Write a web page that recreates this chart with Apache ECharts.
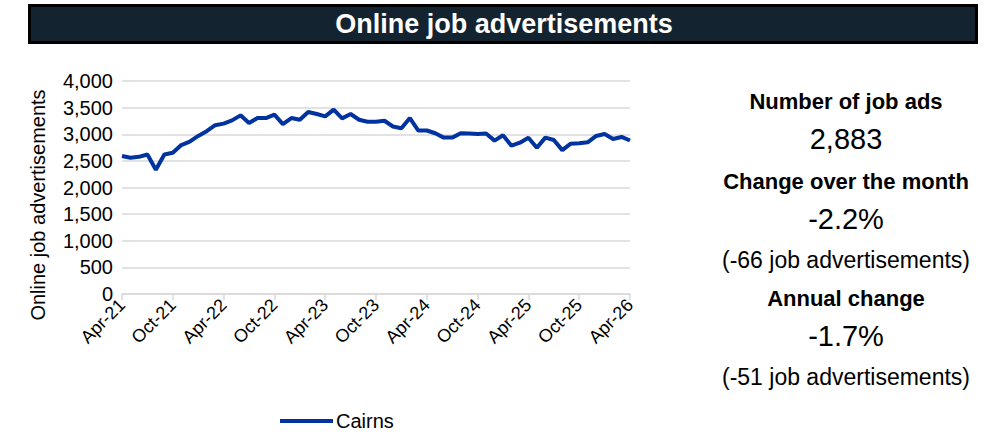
<!DOCTYPE html>
<html><head><meta charset="utf-8">
<script src="https://cdn.jsdelivr.net/npm/echarts@6/dist/echarts.min.js"></script>
<style>html,body{margin:0;padding:0;background:#fff}#c{width:996px;height:441px}</style>
</head><body><div id="c"></div>
<script>
const categories = ["Apr-21","May-21","Jun-21","Jul-21","Aug-21","Sep-21","Oct-21","Nov-21","Dec-21","Jan-22","Feb-22","Mar-22",
"Apr-22","May-22","Jun-22","Jul-22","Aug-22","Sep-22","Oct-22","Nov-22","Dec-22","Jan-23","Feb-23","Mar-23",
"Apr-23","May-23","Jun-23","Jul-23","Aug-23","Sep-23","Oct-23","Nov-23","Dec-23","Jan-24","Feb-24","Mar-24",
"Apr-24","May-24","Jun-24","Jul-24","Aug-24","Sep-24","Oct-24","Nov-24","Dec-24","Jan-25","Feb-25","Mar-25",
"Apr-25","May-25","Jun-25","Jul-25","Aug-25","Sep-25","Oct-25","Nov-25","Dec-25","Jan-26","Feb-26","Mar-26","Apr-26"];
const cairns = [2590,2560,2576,2620,2335,2620,2652,2797,2860,2968,3057,3170,
3200,3260,3355,3210,3304,3304,3367,3190,3304,3272,3418,3380,
3335,3462,3298,3380,3272,3234,3234,3253,3146,3114,3304,3070,
3070,3019,2937,2937,3019,3013,3006,3013,2880,2981,2785,2842,
2934,2747,2937,2892,2702,2823,2829,2848,2968,3006,2911,2949,2883];
const yTicks = [0,500,1000,1500,2000,2500,3000,3500,4000];
const seriesName = "Cairns";
const chartTitle = "Online job advertisements";
const yAxisTitle = "Online job advertisements";
const panelTexts = [
  ["Number of job ads", true, 22, 101],
  ["2,883", false, 29, 139],
  ["Change over the month", true, 22, 181],
  ["-2.2%", false, 29, 219],
  ["(-66 job advertisements)", false, 23, 260],
  ["Annual change", true, 22, 298],
  ["-1.7%", false, 29, 336],
  ["(-51 job advertisements)", false, 23, 377]
];
const FONT = "'Liberation Sans', Arial, sans-serif";
const chart = echarts.init(document.getElementById('c'), null, {renderer:'svg'});
const graphics = [
  {type:'rect', shape:{x:29.5,y:5.5,width:947,height:37}, style:{fill:'#13232f', stroke:'#000', lineWidth:3}, z:10},
  {type:'text', x:504, y:24, style:{text:chartTitle, fill:'#fff', font:'bold 27px '+FONT, textAlign:'center', textVerticalAlign:'middle'}, z:11},
  {type:'text', x:38, y:205, rotation:Math.PI/2, style:{text:yAxisTitle, fill:'#000', font:'20px '+FONT, textAlign:'center', textVerticalAlign:'middle'}}
];
panelTexts.forEach(([t,b,s,y]) => {
  graphics.push({type:'text', x:846, y:y, style:{text:t, fill:'#000', font:(b?'bold ':'')+s+'px '+FONT, textAlign:'center', textVerticalAlign:'middle'}});
});
chart.setOption({
  animation:false,
  textStyle:{fontFamily:FONT},
  grid:{left:122, top:81, width:508, height:213, containLabel:false},
  legend:{data:[seriesName], left:280, top:411, padding:0, itemWidth:53, itemHeight:4, icon:'rect', itemGap:10,
    textStyle:{fontSize:20, color:'#000', fontFamily:FONT, padding:[0,0,0,-2]}},
  xAxis:{type:'category', data:categories, boundaryGap:false,
    axisLine:{lineStyle:{color:'#d9d9d9', width:1.5}},
    axisTick:{show:true, interval:5, length:6, lineStyle:{color:'#d9d9d9', width:1.5}},
    axisLabel:{interval:5, rotate:45, fontSize:18, color:'#000', margin:8, fontFamily:FONT},
    splitLine:{show:false}},
  yAxis:{type:'value', min:yTicks[0], max:yTicks[yTicks.length-1], interval:500,
    axisLine:{show:false}, axisTick:{show:false},
    axisLabel:{fontSize:20, color:'#000', margin:9, fontFamily:FONT,
      formatter:v=>v.toLocaleString('en-US')},
    splitLine:{lineStyle:{color:'#d9d9d9', width:1.5}}},
  series:[{name:seriesName, type:'line', data:cairns, symbol:'none',
    lineStyle:{color:'#0033a0', width:4}, itemStyle:{color:'#0033a0'}}],
  graphic:graphics
});
</script></body></html>
